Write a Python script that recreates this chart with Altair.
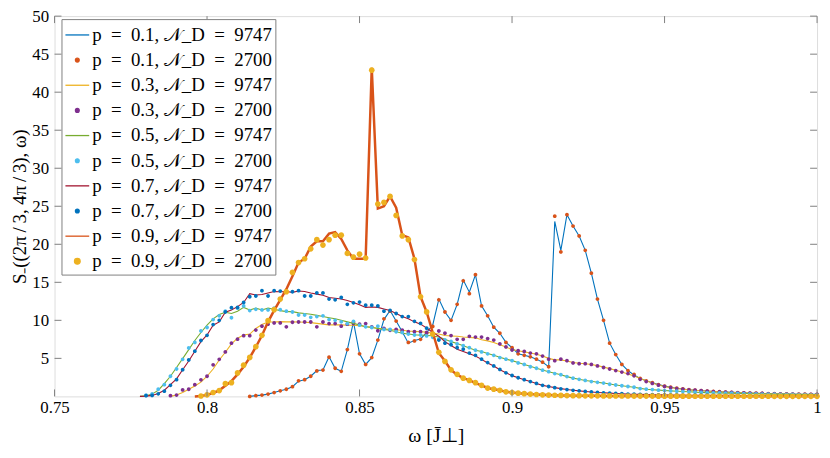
import altair as alt
import pandas as pd

STEP = 0.002
FONT = "Liberation Serif"
AXC = "#808080"
SP = "\u2002"

labels = [
    f"p{SP}={SP}0.1, 𝒩_D{SP}={SP}9747", f"p{SP}={SP}0.1, 𝒩_D{SP}={SP}2700",
    f"p{SP}={SP}0.3, 𝒩_D{SP}={SP}9747", f"p{SP}={SP}0.3, 𝒩_D{SP}={SP}2700",
    f"p{SP}={SP}0.5, 𝒩_D{SP}={SP}9747", f"p{SP}={SP}0.5, 𝒩_D{SP}={SP}2700",
    f"p{SP}={SP}0.7, 𝒩_D{SP}={SP}9747", f"p{SP}={SP}0.7, 𝒩_D{SP}={SP}2700",
    f"p{SP}={SP}0.9, 𝒩_D{SP}={SP}9747", f"p{SP}={SP}0.9, 𝒩_D{SP}={SP}2700",
]
colors = ["#0072BD", "#D95319", "#EDB120", "#7E2F8E", "#77AC30",
          "#4DBEEE", "#A2142F", "#0072BD", "#D95319", "#EDB120"]
DOT = "M-0.16,0A0.16,0.16 0 1,1 0.16,0A0.16,0.16 0 1,1 -0.16,0Z"
BIG = "M-0.24,0A0.24,0.24 0 1,1 0.24,0A0.24,0.24 0 1,1 -0.24,0Z"
shapes = ["stroke", DOT, "stroke", DOT, "stroke", DOT, "stroke", DOT, "stroke", BIG]

x_ticks = [0.75, 0.8, 0.85, 0.9, 0.95, 1.0]
y_ticks = [5, 10, 15, 20, 25, 30, 35, 40, 45, 50]

# p = 0.1
L1_start = 0.814
L1 = [0.0, 0.1, 0.17, 0.3, 0.5, 0.73, 0.94, 1.28, 2.0, 2.2,
      2.65, 3.4, 3.46, 5.2, 3.7, 3.3, 6.15, 9.8, 5.6, 4.2,
      5.1, 7.4, 10.1, 11.3, 9.9, 8.5, 7.0, 7.35, 7.55, 8.4,
      9.4, 12.8, 11.1, 10.0, 12.1, 15.3, 13.7, 16.0, 11.9, 10.6,
      9.1, 8.3, 7.1, 6.4, 5.6, 5.4, 5.2, 4.9, 4.5, 3.9,
      23.0, 19.2, 23.9, 22.4, 21.1, 19.2, 16.2, 12.8, 10.0, 7.0,
      5.5, 4.2, 3.4, 2.8, 2.35, 2.05, 1.8, 1.55, 1.35, 1.2,
      1.07, 0.97, 0.88, 0.81, 0.76, 0.7, 0.65, 0.61, 0.57, 0.53,
      0.5, 0.47, 0.44, 0.41, 0.39, 0.37, 0.35, 0.33, 0.32, 0.3,
      0.29, 0.28, 0.27, 0.26]
D1_start = 0.814
D1 = [0.0, 0.1, 0.17, 0.3, 0.5, 0.73, 0.94, 1.28, 2.05, 2.2,
      2.65, 3.35, 3.46, 5.15, 3.7, 3.3, 6.15, 9.75, 5.6, 4.2,
      5.1, 7.4, 10.2, 11.2, 9.9, 8.5, 7.1, 7.3, 7.5, 8.3,
      9.2, 12.7, 11.1, 10.0, 12.1, 15.2, 13.5, 16.0, 11.9, 10.6,
      9.1, 8.3, 7.1, 6.4, 5.6, 5.4, 5.2, 4.9, 4.5, 3.9,
      23.7, 19.0, 23.9, 22.4, 21.1, 19.2, 16.2, 12.8, 10.0, 7.0,
      5.5, 4.2, 3.4, 2.9, 2.35, 2.05, 1.8, 1.55, 1.35, 1.2,
      1.07, 0.97, 0.88, 0.81, 0.76, 0.7, 0.65, 0.61, 0.57, 0.53,
      0.5, 0.47, 0.44, 0.41, 0.39, 0.37, 0.35, 0.33, 0.32, 0.3,
      0.29, 0.28, 0.27, 0.26]

# p = 0.3
L3_start = 0.788
L3 = [0.0, 0.17, 0.51, 0.94, 1.37, 1.88, 2.65, 3.6, 4.79, 5.8,
      6.9, 7.65, 8.08, 8.2, 8.93, 9.44, 9.78, 9.78, 9.83, 9.8,
      9.8, 9.78, 9.75, 9.7, 9.6, 9.5, 9.4, 9.4, 9.4, 9.35,
      9.35, 9.3, 9.2, 9.1, 8.95, 8.9, 8.8, 8.75, 8.7, 8.6,
      8.55, 8.5, 8.45, 8.3, 8.2, 8.0, 7.95, 7.9, 7.8, 7.75,
      7.7, 7.45, 7.3, 7.1, 6.8, 6.5, 6.15, 6.0, 5.85, 5.7,
      5.55, 5.3, 5.0, 4.8, 4.8, 4.65, 4.45, 4.35, 4.3, 4.2,
      4.05, 3.85, 3.65, 3.45, 3.2, 2.95, 2.7, 2.35, 2.05, 1.75,
      1.5, 1.3, 1.15, 1.03, 0.94, 0.86, 0.8, 0.75, 0.69, 0.64,
      0.6, 0.56, 0.52, 0.48, 0.46, 0.43, 0.4, 0.38, 0.35, 0.33,
      0.31, 0.3, 0.29, 0.27, 0.26, 0.25, 0.25]
D3_start = 0.788
D3 = [0.09, 0.17, 0.85, 0.94, 1.54, 2.18, 2.65, 4.15, 4.87, 5.85,
      7.0, 7.52, 7.99, 7.99, 8.72, 9.23, 9.49, 9.66, 9.66, 9.15,
      9.75, 9.78, 9.78, 9.78, 9.15, 9.78, 9.57, 9.57, 9.23, 9.5,
      9.57, 9.5, 9.57, 9.15, 8.63, 8.93, 8.7, 8.8, 8.7, 8.5,
      8.5, 8.5, 8.4, 8.2, 8.6, 8.3, 8.0, 7.5, 7.5, 7.9,
      7.8, 7.8, 7.6, 7.4, 6.9, 6.5, 6.1, 6.0, 5.9, 5.7,
      5.6, 5.3, 4.9, 4.7, 4.9, 4.7, 4.4, 4.3, 4.3, 4.2,
      4.0, 3.8, 3.6, 3.4, 3.2, 3.0, 2.7, 2.25, 1.95, 1.7,
      1.48, 1.3, 1.15, 1.03, 0.94, 0.85, 0.81, 0.77, 0.68, 0.64,
      0.6, 0.55, 0.51, 0.47, 0.47, 0.43, 0.38, 0.38, 0.34, 0.34,
      0.3, 0.3, 0.3, 0.26, 0.26, 0.26, 0.26]

# p = 0.5
L5_start = 0.778
L5 = [0.0, 0.09, 0.3, 0.81, 1.67, 2.65, 3.8, 4.96, 6.15, 7.35,
      8.4, 9.36, 10.2, 10.77, 11.07, 10.9, 11.2, 11.7, 11.37, 11.6,
      11.37, 11.6, 11.45, 11.28, 11.15, 11.15, 10.98, 10.9, 10.8, 10.65,
      10.5, 10.35, 10.2, 10.0, 9.8, 9.6, 9.4, 9.15, 9.05, 8.93,
      8.8, 8.7, 8.5, 8.3, 8.2, 8.1, 8.05, 8.05, 7.95, 7.8,
      7.5, 7.2, 6.95, 6.67, 6.35, 6.07, 5.9, 5.65, 5.4, 5.15,
      4.9, 4.7, 4.45, 4.2, 3.95, 3.7, 3.46, 3.25, 3.05, 2.85,
      2.6, 2.4, 2.25, 2.1, 2.0, 1.85, 1.75, 1.62, 1.5, 1.4,
      1.3, 1.2, 1.05, 0.95, 0.88, 0.82, 0.77, 0.72, 0.68, 0.64,
      0.6, 0.56, 0.52, 0.49, 0.47, 0.45, 0.43, 0.41, 0.39, 0.37,
      0.35, 0.33, 0.31, 0.3, 0.29, 0.27, 0.26, 0.25, 0.24, 0.23,
      0.22, 0.21]
D5_start = 0.780
D5 = [0.17, 0.34, 0.94, 1.54, 2.65, 3.6, 4.87, 6.37, 7.1, 8.6,
      9.06, 10.1, 10.6, 11.2, 10.34, 11.6, 11.9, 11.28, 11.45, 11.37,
      11.37, 11.6, 11.4, 11.2, 11.1, 10.7, 10.7, 10.4, 10.5, 10.6,
      10.1, 10.0, 9.8, 9.57, 9.87, 9.36, 9.15, 9.06, 9.23, 8.8,
      8.8, 8.5, 8.4, 8.2, 8.07, 8.07, 7.95, 7.78, 7.56, 7.43,
      7.22, 6.9, 6.67, 6.4, 6.07, 5.85, 5.6, 5.4, 5.1, 4.9,
      4.7, 4.4, 4.2, 3.9, 3.7, 3.45, 3.25, 3.0, 2.85, 2.6,
      2.4, 2.25, 2.1, 1.95, 1.85, 1.75, 1.6, 1.5, 1.4, 1.3,
      1.2, 1.03, 0.95, 0.9, 0.82, 0.77, 0.72, 0.68, 0.64, 0.6,
      0.56, 0.51, 0.49, 0.47, 0.45, 0.43, 0.41, 0.38, 0.36, 0.34,
      0.33, 0.3, 0.3, 0.28, 0.26, 0.26, 0.25, 0.23, 0.22, 0.21,
      0.21]

# p = 0.7
L7_start = 0.778
L7 = [0.0, 0.04, 0.13, 0.38, 0.81, 1.54, 2.3, 3.5, 4.66, 5.94,
      7.2, 8.08, 9.36, 9.8, 11.07, 11.37, 11.8, 12.35, 13.5, 13.33,
      13.4, 13.6, 13.8, 13.76, 13.8, 13.68, 13.85, 13.8, 13.6, 13.45,
      13.3, 13.0, 12.9, 12.8, 12.6, 12.35, 12.05, 11.7, 11.75, 11.7,
      11.5, 11.3, 10.9, 10.5, 10.2, 9.8, 9.5, 9.0, 8.4, 7.9,
      7.2, 6.7, 6.2, 5.9, 5.6, 5.3, 4.87, 4.4, 4.0, 3.5,
      3.1, 2.73, 2.45, 2.2, 1.95, 1.7, 1.45, 1.3, 1.15, 1.02,
      0.9, 0.81, 0.73, 0.65, 0.58, 0.52, 0.47, 0.43, 0.39, 0.35,
      0.3, 0.28, 0.26, 0.24, 0.22, 0.21, 0.2, 0.19, 0.18, 0.17,
      0.16, 0.16, 0.15, 0.15, 0.14, 0.14, 0.13, 0.13, 0.13, 0.12,
      0.12, 0.12, 0.11, 0.11, 0.11, 0.1, 0.1, 0.1, 0.1, 0.1,
      0.09, 0.09]
D7_start = 0.780
D7 = [0.09, 0.13, 0.34, 0.68, 1.45, 2.2, 3.5, 4.8, 5.94, 7.35,
      8.03, 9.44, 10.0, 11.1, 11.67, 11.7, 12.35, 13.1, 13.2, 13.9,
      13.2, 13.9, 13.85, 13.76, 13.76, 13.9, 13.2, 13.2, 13.6, 13.6,
      12.8, 12.7, 13.0, 12.1, 12.3, 12.4, 12.0, 12.0, 11.9, 11.2,
      11.3, 10.9, 10.5, 10.5, 9.87, 9.6, 8.97, 8.2, 7.4, 7.0,
      6.8, 6.4, 6.2, 5.7, 5.4, 4.9, 4.45, 4.0, 3.55, 3.1,
      2.75, 2.45, 2.2, 1.95, 1.7, 1.45, 1.3, 1.15, 1.0, 0.9,
      0.8, 0.73, 0.65, 0.58, 0.52, 0.47, 0.43, 0.39, 0.35, 0.3,
      0.28, 0.26, 0.24, 0.22, 0.21, 0.2, 0.19, 0.18, 0.17, 0.16,
      0.16, 0.15, 0.15, 0.14, 0.14, 0.13, 0.13, 0.13, 0.12, 0.12,
      0.12, 0.11, 0.11, 0.11, 0.1, 0.1, 0.1, 0.1, 0.1, 0.09,
      0.09]

# p = 0.9
L9_start = 0.796
L9 = [0.0, 0.05, 0.2, 0.45, 0.8, 1.4, 2.0, 2.9, 3.9, 5.1,
      6.5, 8.0, 9.8, 11.3, 12.7, 14.1, 15.8, 17.6, 18.1, 19.7,
      20.4, 20.4, 21.4, 21.6, 20.7, 19.2, 18.1, 18.1, 18.1, 43.2,
      24.7, 25.0, 26.3, 24.8, 21.2, 20.9, 18.1, 13.1, 11.1, 8.4,
      5.7, 4.65, 3.46, 2.86, 2.4, 2.14, 1.75, 1.45, 1.11, 0.94,
      0.8, 0.6, 0.5, 0.42, 0.36, 0.3, 0.25, 0.21, 0.18, 0.15,
      0.13, 0.11, 0.1, 0.09, 0.08, 0.07, 0.07, 0.06, 0.06, 0.05,
      0.05, 0.05, 0.04, 0.04, 0.04, 0.04, 0.03, 0.03, 0.03, 0.03,
      0.03, 0.03, 0.03, 0.02, 0.02, 0.02, 0.02, 0.02, 0.02, 0.02,
      0.02, 0.02, 0.02, 0.02, 0.02, 0.01, 0.01, 0.01, 0.01, 0.01,
      0.01, 0.01, 0.01]
D9_start = 0.798
D9 = [0.05, 0.21, 0.51, 0.77, 1.67, 1.8, 3.08, 4.1, 5.13, 6.54,
      8.03, 9.96, 11.4, 12.8, 13.76, 16.3, 17.6, 18.1, 19.4, 20.6,
      19.9, 20.6, 21.2, 21.2, 18.8, 18.3, 18.7, 18.2, 42.9, 25.3,
      25.5, 26.3, 23.8, 21.1, 20.6, 18.0, 13.1, 11.1, 8.2, 5.8,
      4.6, 3.5, 2.9, 2.4, 2.1, 1.8, 1.45, 1.1, 0.95, 0.8,
      0.6, 0.5, 0.42, 0.36, 0.3, 0.25, 0.21, 0.18, 0.15, 0.13,
      0.11, 0.1, 0.09, 0.08, 0.07, 0.07, 0.06, 0.06, 0.05, 0.05,
      0.05, 0.04, 0.04, 0.04, 0.04, 0.03, 0.03, 0.03, 0.03, 0.03,
      0.03, 0.02, 0.02, 0.02, 0.02, 0.02, 0.02, 0.02, 0.02, 0.02,
      0.02, 0.02, 0.02, 0.02, 0.01, 0.01, 0.01, 0.01, 0.01, 0.01,
      0.01, 0.01]

series = [
    (labels[0], "line", L1_start, L1),
    (labels[1], "dot", D1_start, D1),
    (labels[2], "line", L3_start, L3),
    (labels[3], "dot", D3_start, D3),
    (labels[4], "line", L5_start, L5),
    (labels[5], "dot", D5_start, D5),
    (labels[6], "line", L7_start, L7),
    (labels[7], "dot", D7_start, D7),
    (labels[8], "line", L9_start, L9),
    (labels[9], "dot", D9_start, D9),
]

rows = []
for lab, kind, start, vals in series:
    for i, v in enumerate(vals):
        rows.append({"omega": round(start + STEP * i, 4), "S": v, "series": lab})
df = pd.DataFrame(rows)

xs = alt.Scale(domain=[0.75, 1.0], nice=False, zero=False)
ys = alt.Scale(domain=[0, 50], nice=False, zero=False)

legend = alt.Legend(
    title=None, orient="none", legendX=7, legendY=3,
    fillColor="white", strokeColor=AXC, padding=3,
    labelFont=FONT, labelFontSize=19, labelColor="black", labelOffset=2,
    rowPadding=2.4, labelLimit=400, symbolOpacity=1, symbolSize=576,
    symbolStrokeWidth=1.3,
)

xaxis = alt.Axis(title="ω [J̄⊥]", values=x_ticks, format="~g", ticks=False,
                 domain=False, grid=False, labelFont=FONT, labelFontSize=17,
                 labelColor="black", labelPadding=3, labelFlush=False,
                 labelOverlap=False, titleFont=FONT, titleFontSize=20,
                 titleFontWeight="normal", titleColor="black", titlePadding=11)
yaxis = alt.Axis(title="S₋((2π\u2009/\u20093, 4π\u2009/\u20093), ω)", values=y_ticks,
                 ticks=False, domain=False, grid=False, labelFont=FONT,
                 labelFontSize=17, labelColor="black", labelPadding=6,
                 labelFlush=False, labelOverlap=False, titleFont=FONT,
                 titleFontSize=19, titleFontWeight="normal", titleColor="black",
                 titlePadding=2)

X = alt.X("omega:Q", scale=xs, axis=xaxis)
Y = alt.Y("S:Q", scale=ys, axis=yaxis)
C = alt.Color("series:N", scale=alt.Scale(domain=labels, range=colors), legend=legend)
SH = alt.Shape("series:N", scale=alt.Scale(domain=labels, range=shapes), legend=legend)

layers = []
for lab, kind, start, vals in series:
    base = alt.Chart(df).transform_filter(alt.datum.series == lab)
    p9 = "0.9," in lab
    if kind == "line":
        layers.append(base.mark_line(strokeWidth=2.5 if p9 else 1.1)
                      .encode(x=X, y=Y, color=C))
    else:
        layers.append(base.mark_point(filled=True, opacity=1, strokeWidth=0, size=576)
                      .encode(x=X, y=Y, color=C, shape=SH))

xt_df = pd.DataFrame({"omega": x_ticks})
yt_df = pd.DataFrame({"S": y_ticks})
TL = 7
layers += [
    alt.Chart(xt_df).mark_rule(color=AXC, strokeWidth=1).encode(
        x=X, y=alt.value(384), y2=alt.value(384 - TL)),
    alt.Chart(xt_df).mark_rule(color=AXC, strokeWidth=1).encode(
        x=X, y=alt.value(0), y2=alt.value(TL)),
    alt.Chart(yt_df).mark_rule(color=AXC, strokeWidth=1).encode(
        y=Y, x=alt.value(0), x2=alt.value(TL)),
    alt.Chart(yt_df).mark_rule(color=AXC, strokeWidth=1).encode(
        y=Y, x=alt.value(770), x2=alt.value(770 - TL)),
]

chart = alt.layer(*layers).properties(
    width=770, height=384,
    padding={"left": 47, "top": 6, "right": 5, "bottom": 60},
    autosize=alt.AutoSizeParams(type="none"),
).configure_view(stroke=AXC, strokeWidth=1).configure(background="white")

chart.save("out.html", embed_options={"renderer": "svg", "actions": False})
